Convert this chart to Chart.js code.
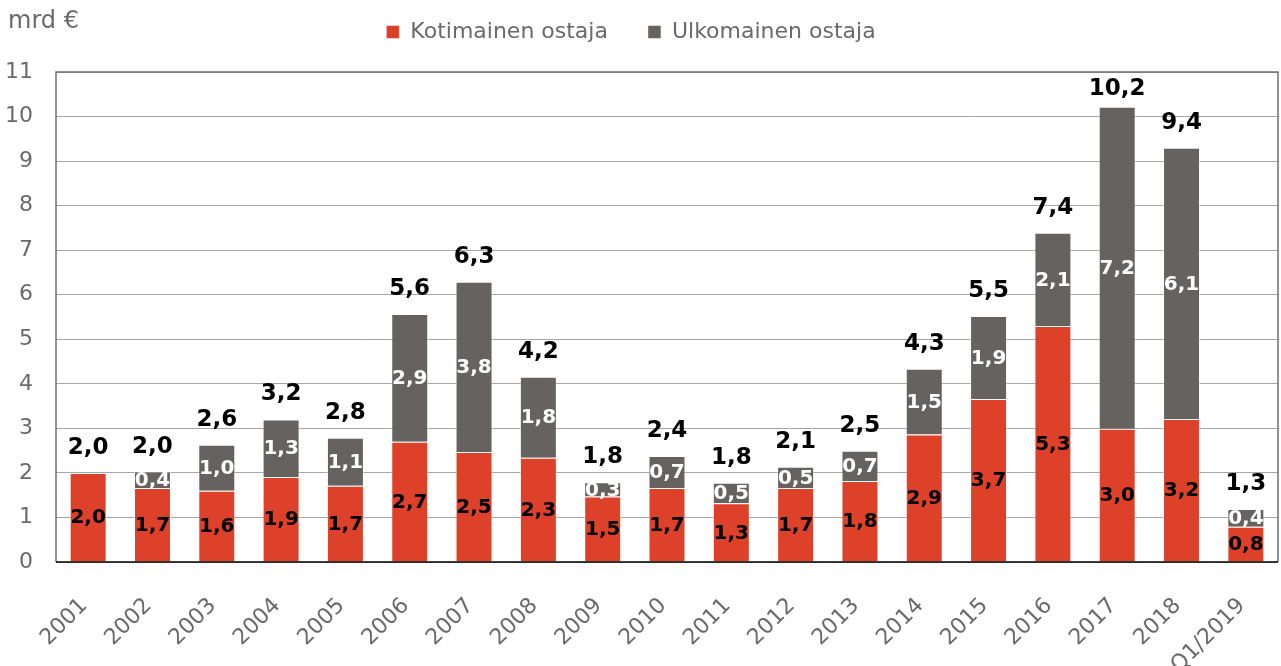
<!DOCTYPE html>
<html><head><meta charset="utf-8">
<script src="https://cdn.jsdelivr.net/npm/chart.js@4.4.0/dist/chart.umd.min.js"></script>
<style>html,body{margin:0;padding:0;background:#fff;} #wrap{position:relative;width:1281px;height:666px;}</style>
</head><body><div id="wrap"><canvas id="c" width="1281" height="666"></canvas></div>
<script>
const categories = ['2001','2002','2003','2004','2005','2006','2007','2008','2009','2010','2011','2012','2013','2014','2015','2016','2017','2018','Q1/2019'];
const domestic = [2.00,1.66,1.60,1.91,1.71,2.70,2.47,2.34,1.47,1.66,1.32,1.66,1.82,2.86,3.66,5.30,2.99,3.21,0.79];
const foreign  = [0.00,0.37,1.03,1.29,1.08,2.87,3.82,1.82,0.32,0.72,0.46,0.48,0.68,1.48,1.86,2.09,7.23,6.09,0.40];
const totals   = [2.0,2.0,2.6,3.2,2.8,5.6,6.3,4.2,1.8,2.4,1.8,2.1,2.5,4.3,5.5,7.4,10.2,9.4,1.3];
const seriesNames = ['Kotimainen ostaja','Ulkomainen ostaja'];
const yMin = 0, yMax = 11, yStep = 1;
const unitLabel = 'mrd €';

const RED = '#DE4129', GREY = '#656260', TXT = '#6a6a6a';
const FONT = "'DejaVu Sans'";
const fmt = v => v.toFixed(1).replace('.', ',');

const labelPlugin = {
  id: 'labels',
  afterDatasetsDraw(chart) {
    const ctx = chart.ctx;
    const top = chart.chartArea.top;
    const m0 = chart.getDatasetMeta(0), m1 = chart.getDatasetMeta(1);
    ctx.save();
    ctx.textAlign = 'center';
    ctx.textBaseline = 'middle';
    ctx.font = 'bold 20px ' + FONT;
    m0.data.forEach((bar, i) => {
      ctx.fillStyle = '#000';
      ctx.fillText(fmt(domestic[i]), bar.x, (bar.y + bar.base) / 2 + 1);
    });
    m1.data.forEach((bar, i) => {
      if (foreign[i] > 0) {
        ctx.fillStyle = '#fff';
        ctx.font = 'bold 20px ' + FONT;
        ctx.fillText(fmt(foreign[i]), bar.x, (bar.y + bar.base) / 2 + 1);
      }
      ctx.fillStyle = '#000';
      ctx.font = 'bold 23px ' + FONT;
      ctx.fillText(fmt(totals[i]), bar.x, Math.max(bar.y - 25, top + 17));
    });
    ctx.restore();
  }
};

const framePlugin = {
  id: 'frame',
  afterLayout(chart) {
    chart.legend.left -= 8;
    chart.legend.right -= 8;
  },
  afterDraw(chart) {
    const {ctx, chartArea: a} = chart;
    ctx.save();
    ctx.strokeStyle = '#707070';
    ctx.lineWidth = 1.5;
    ctx.beginPath();
    ctx.moveTo(a.left, a.bottom);
    ctx.lineTo(a.left, a.top);
    ctx.lineTo(a.right, a.top);
    ctx.lineTo(a.right, a.bottom);
    ctx.stroke();
    ctx.strokeStyle = '#000';
    ctx.beginPath();
    ctx.moveTo(a.left, a.bottom);
    ctx.lineTo(a.right, a.bottom);
    ctx.stroke();
    ctx.fillStyle = TXT;
    ctx.font = '24px ' + FONT;
    ctx.textAlign = 'left';
    ctx.textBaseline = 'middle';
    ctx.fillText(unitLabel, 8, 22);
    ctx.restore();
  }
};

const legendFit = {
  id: 'legendFit',
  beforeInit(chart) {
    const orig = chart.legend.fit;
    chart.legend.fit = function () { orig.bind(chart.legend)(); this.height = 91; };
  }
};

new Chart(document.getElementById('c'), {
  type: 'bar',
  data: {
    labels: categories,
    datasets: [
      {label: seriesNames[0], data: domestic, backgroundColor: RED, borderColor: 'rgba(255,255,255,0.45)', borderWidth: 1},
      {label: seriesNames[1], data: foreign, backgroundColor: GREY, borderColor: 'rgba(255,255,255,0.45)', borderWidth: 1}
    ]
  },
  options: {
    responsive: false,
    animation: false,
    font: {family: FONT},
    layout: {padding: {top: -19, left: 0, right: 3, bottom: 0}},
    datasets: {bar: {barPercentage: 0.575, categoryPercentage: 1}},
    plugins: {
      legend: {
        position: 'top',
        labels: {
          font: {family: FONT, size: 22},
          color: TXT,
          boxWidth: 13,
          boxHeight: 13,
          padding: 40
        }
      },
      tooltip: {enabled: false},
      title: {display: false}
    },
    scales: {
      x: {
        stacked: true,
        grid: {display: false, drawTicks: false},
        border: {display: false},
        ticks: {
          font: {family: FONT, size: 22},
          color: TXT,
          maxRotation: 45, minRotation: 45,
          autoSkip: false,
          padding: 31,
          labelOffset: -4
        },
        afterFit(s) { s.height = 104; s.paddingLeft = 0; s.paddingRight = 0; }
      },
      y: {
        stacked: true,
        min: yMin, max: yMax,
        grid: {color: '#a6a6a6', lineWidth: 1, drawTicks: false},
        border: {display: false},
        ticks: {
          stepSize: yStep,
          font: {family: FONT, size: 22},
          color: TXT,
          padding: 23
        },
        afterFit(s) { s.width = 56; s.paddingTop = 0; s.paddingBottom = 0; }
      }
    }
  },
  plugins: [labelPlugin, framePlugin, legendFit]
});
</script></body></html>
